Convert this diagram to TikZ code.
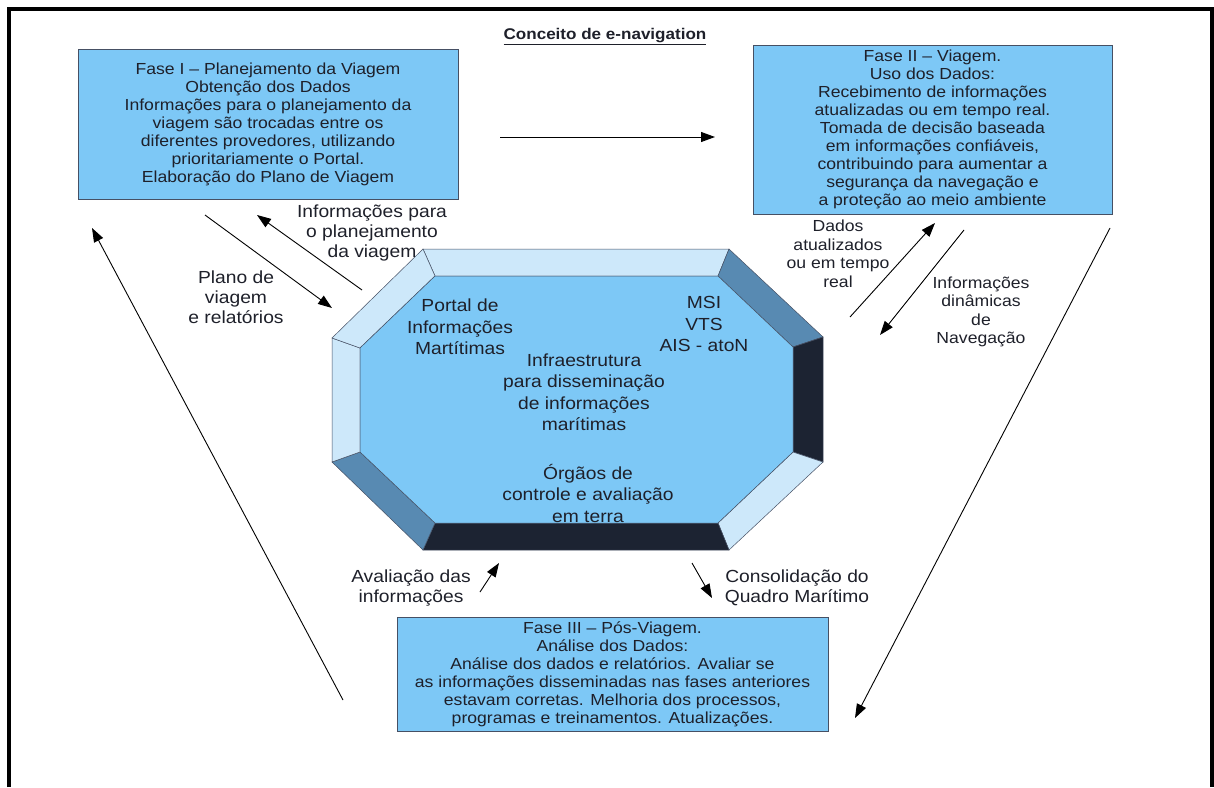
\documentclass[tikz,border=0pt]{standalone}
\usepackage{fontspec}
\setmainfont{Liberation Sans}[FakeStretch=1.1]
\usetikzlibrary{arrows.meta}

\definecolor{boxblue}{RGB}{125,200,246}
\definecolor{boxedge}{RGB}{70,80,100}
\definecolor{facetlight}{RGB}{205,232,250}
\definecolor{facetmid}{RGB}{88,138,178}
\definecolor{facetdark}{RGB}{28,35,50}
\definecolor{textc}{RGB}{30,32,42}

\tikzset{
  phasebox/.style={draw=boxedge, line width=0.8pt, fill=boxblue, align=center,
    text=textc, inner sep=0pt, font=\fontsize{16}{18}\selectfont},
  octtext/.style={align=center, text=textc, font=\fontsize{17.5}{21.5}\selectfont},
  lbl/.style={align=center, text=textc, font=\fontsize{17.5}{20}\selectfont},
  lblsmall/.style={align=center, text=textc, font=\fontsize{16}{18.5}\selectfont},
  facet/.style={draw=boxedge, line width=0.5pt}
}

\begin{document}
\begin{tikzpicture}[x=1pt, y=-1pt, >={Triangle[length=14pt,width=10pt]}]
  \useasboundingbox (0,0) rectangle (1214,787);
  % frame
  \draw[line width=4pt] (9,787) -- (9,9) -- (1211.5,9) -- (1211.5,787);

  \node[text=textc, font=\bfseries\fontsize{15.5}{18}\selectfont] (title) at (605,37)
    {\underline{Conceito de e-navigation}};

  % phase boxes
  \node[phasebox, minimum width=380pt, minimum height=150pt] (phaseI) at (268,124)
    {Fase I -- Planejamento da Viagem\\Obtenção dos Dados\\Informações para o planejamento da\\viagem são trocadas entre os\\diferentes provedores, utilizando\\prioritariamente o Portal.\\Elaboração do Plano de Viagem};
  \node[phasebox, minimum width=359pt, minimum height=169pt] (phaseII) at (932.5,129.5)
    {Fase II -- Viagem.\\Uso dos Dados:\\Recebimento de informações\\atualizadas ou em tempo real.\\Tomada de decisão baseada\\em informações confiáveis,\\contribuindo para aumentar a\\segurança da navegação e\\a proteção ao meio ambiente};
  \node[phasebox, minimum width=431pt, minimum height=114pt] (phaseIII) at (612.5,674)
    {Fase III -- Pós-Viagem.\\Análise dos Dados:\\Análise dos dados e relatórios. Avaliar se\\as informações disseminadas nas fases anteriores\\estavam corretas. Melhoria dos processos,\\programas e treinamentos. Atualizações.};

  % octagon
  \coordinate (o1) at (423,249);
  \coordinate (o2) at (729,249);
  \coordinate (o3) at (823,337);
  \coordinate (o4) at (823,462);
  \coordinate (o5) at (729,550);
  \coordinate (o6) at (423,550);
  \coordinate (o7) at (332,462);
  \coordinate (o8) at (332,338);
  \coordinate (i1) at (435,276);
  \coordinate (i2) at (718,276);
  \coordinate (i3) at (793,347);
  \coordinate (i4) at (793,452);
  \coordinate (i5) at (718,523);
  \coordinate (i6) at (435,523);
  \coordinate (i7) at (360,452);
  \coordinate (i8) at (360,348);
  \foreach \a/\b/\c in {1/2/facetlight, 2/3/facetmid, 3/4/facetdark, 4/5/facetlight,
                        5/6/facetdark, 6/7/facetmid, 7/8/facetlight, 8/1/facetlight}
    \filldraw[facet, fill=\c] (o\a) -- (o\b) -- (i\b) -- (i\a) -- cycle;
  \filldraw[facet, fill=boxblue] (i1) -- (i2) -- (i3) -- (i4) -- (i5) -- (i6) -- (i7) -- (i8) -- cycle;

  \node[octtext] (portal) at (460,327) {Portal de\\Informações\\Martítimas};
  \node[octtext] (msi) at (704,324) {MSI\\VTS\\AIS - atoN};
  \node[octtext] (infra) at (584,392) {Infraestrutura\\para disseminação\\de informações\\marítimas};
  \node[octtext] (orgaos) at (588,493) {Órgãos de\\controle e avaliação\\em terra};

  % labels
  \node[lbl] (lblinfo) at (372,233) {Informações para\\o planejamento\\da viagem};
  \node[lbl] (lblplano) at (236,297) {Plano de\\viagem\\e relatórios};
  \node[lblsmall] (lbldados) at (838,254) {Dados\\atualizados\\ou em tempo\\real};
  \node[lblsmall] (lbldin) at (981,312) {Informações\\dinâmicas\\de\\Navegação};
  \node[lbl] (lblaval) at (411,588) {Avaliação das\\informações};
  \node[lbl] (lblcons) at (797,588) {Consolidação do\\Quadro Marítimo};

  % arrow ends
  \coordinate (topA) at (500,137);
  \coordinate (topB) at (715,137);
  \coordinate (planoA) at (205,215);
  \coordinate (planoB) at (332,308);
  \coordinate (infoA) at (362,290);
  \coordinate (infoB) at (257,215);
  \coordinate (dadosA) at (850,317);
  \coordinate (dadosB) at (935,223);
  \coordinate (dinA) at (964,230);
  \coordinate (dinB) at (880,335);
  \coordinate (leftA) at (343,700);
  \coordinate (leftB) at (92,228);
  \coordinate (rightA) at (1110,228);
  \coordinate (rightB) at (855,718);
  \coordinate (avalA) at (480,592);
  \coordinate (avalB) at (499,563);
  \coordinate (consA) at (692,563);
  \coordinate (consB) at (712,598);

  \draw[->, line width=0.9pt] (topA) -- (topB);
  \draw[->, line width=0.9pt] (planoA) -- (planoB);
  \draw[->, line width=0.9pt] (infoA) -- (infoB);
  \draw[->, line width=0.9pt] (dadosA) -- (dadosB);
  \draw[->, line width=0.9pt] (dinA) -- (dinB);
  \draw[->, line width=0.9pt] (leftA) -- (leftB);
  \draw[->, line width=0.9pt] (rightA) -- (rightB);
  \draw[->, line width=0.9pt] (avalA) -- (avalB);
  \draw[->, line width=0.9pt] (consA) -- (consB);
\end{tikzpicture}
\end{document}
